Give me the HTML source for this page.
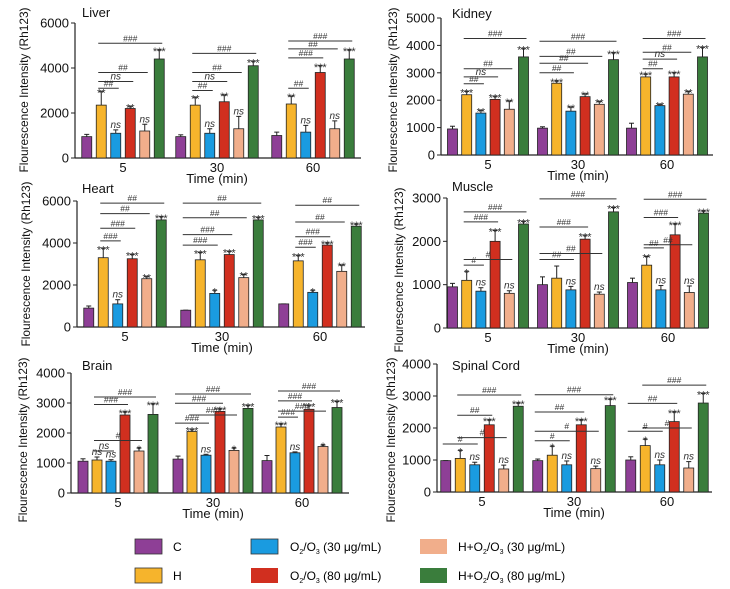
<!DOCTYPE html>
<html><head><meta charset="utf-8">
<style>
html,body{margin:0;padding:0;background:#fff;}
svg{display:block;font-family:"Liberation Sans",sans-serif;}
</style></head>
<body>
<svg id="fig" width="730" height="589" viewBox="0 0 730 589">
<g id="legend">
  <g><rect x="135" y="539" width="27" height="15" fill="#8e3f96" stroke="#333" stroke-width="0.8"/><text x="173" y="551" font-size="12">C</text></g>
  <g><rect x="135" y="568" width="27" height="15" fill="#f6b42c" stroke="#333" stroke-width="0.8"/><text x="173" y="580" font-size="12">H</text></g>
  <g><rect x="251" y="539" width="27" height="15" fill="#1a9be0" stroke="#333" stroke-width="0.8"/><text x="290" y="551" font-size="12">O<tspan font-size="7" dy="3">2</tspan><tspan dy="-3">/O</tspan><tspan font-size="7" dy="3">3</tspan><tspan dy="-3"> (30 μg/mL)</tspan></text></g>
  <g><rect x="251" y="568" width="27" height="15" fill="#d12f1f"/><text x="290" y="580" font-size="12">O<tspan font-size="7" dy="3">2</tspan><tspan dy="-3">/O</tspan><tspan font-size="7" dy="3">3</tspan><tspan dy="-3"> (80 μg/mL)</tspan></text></g>
  <g><rect x="420" y="539" width="27" height="15" fill="#f1ae8b"/><text x="458" y="551" font-size="12">H+O<tspan font-size="7" dy="3">2</tspan><tspan dy="-3">/O</tspan><tspan font-size="7" dy="3">3</tspan><tspan dy="-3"> (30 μg/mL)</tspan></text></g>
  <g><rect x="420" y="568" width="27" height="15" fill="#3a7d3c"/><text x="458" y="580" font-size="12">H+O<tspan font-size="7" dy="3">2</tspan><tspan dy="-3">/O</tspan><tspan font-size="7" dy="3">3</tspan><tspan dy="-3"> (80 μg/mL)</tspan></text></g>
</g>
</svg>
<script>
const categories = ["5","30","60"];
const seriesColors = ["#8e3f96","#f6b42c","#1a9be0","#d12f1f","#f1ae8b","#3a7d3c"];

const liverValues = [[950,2350,1100,2200,1200,4400],[950,2350,1100,2500,1300,4100],[1000,2400,1150,3800,1300,4400]];
const liverErrors = [[100,600,150,100,300,400],[80,350,200,300,550,200],[150,350,300,300,350,400]];
const liverStars = [["","**","ns","**","ns","***"],["","**","ns","**","ns","***"],["","**","ns","***","ns","***"]];
const liverTicks = [0,2000,4000,6000];
const liverBrackets = [[0,1,5,5100,"###"],[0,1,4,3800,"##"],[0,1,3,3400,"ns"],[0,1,2,3100,"##"],
 [1,1,5,4650,"###"],[1,1,4,3800,"##"],[1,1,3,3400,"ns"],[1,1,2,3000,"##"],
 [2,1,5,5200,"###"],[2,1,4,4850,"##"],[2,1,3,4450,"###"],[2,1,2,3100,"##"]];

const kidneyValues = [[950,2200,1530,2030,1670,3580],[980,2620,1600,2130,1850,3480],[980,2850,1800,2850,2220,3580]];
const kidneyErrors = [[100,120,100,100,300,300],[50,80,150,100,100,250],[180,100,50,150,100,350]];
const kidneyStars = [["","***","**","***","**","***"],["","***","**","**","**","***"],["","***","**","***","**","***"]];
const kidneyTicks = [0,1000,2000,3000,4000,5000];
const kidneyBrackets = [[0,1,5,4250,"###"],[0,1,4,3150,"##"],[0,1,3,2850,"ns"],[0,1,2,2600,"##"],
 [1,0,5,4150,"###"],[1,0,4,3600,"##"],[1,0,3,3350,"##"],[1,0,2,3000,"##"],
 [2,1,5,4250,"###"],[2,1,4,3750,"##"],[2,1,3,3500,"ns"],[2,1,2,3150,"##"]];

const heartValues = [[900,3300,1100,3250,2300,5100],[800,3200,1600,3450,2350,5100],[1100,3150,1650,3900,2650,4800]];
const heartErrors = [[100,450,200,200,100,150],[0,350,150,150,150,120],[0,250,100,100,300,100]];
const heartStars = [["","***","ns","***","**","***"],["","***","*","***","**","***"],["","***","*","***","**","***"]];
const heartTicks = [0,2000,4000,6000];
const heartBrackets = [[0,1,5,5900,"##"],[0,1,4,5400,"##"],[0,1,3,4700,"###"],[0,1,2,4100,"###"],
 [1,0,5,5900,"##"],[1,0,4,5200,"##"],[1,0,3,4400,"###"],[1,0,2,3900,"###"],
 [2,1,5,5800,"##"],[2,1,4,5000,"##"],[2,1,3,4300,"###"],[2,1,2,3800,"###"]];

const muscleValues = [[950,1100,850,2000,800,2400],[1000,1150,880,2050,780,2680],[1050,1450,880,2150,820,2650]];
const muscleErrors = [[80,200,80,250,60,60],[180,280,80,80,50,100],[100,200,100,250,150,50]];
const muscleStars = [["","*","ns","***","ns","***"],["","","ns","***","ns","***"],["","**","ns","***","ns","***"]];
const muscleTicks = [0,1000,2000,3000];
const muscleBrackets = [[0,1,5,2680,"###"],[0,1,3,2450,"###"],[0,1,4,1580,"#"],[0,1,2,1450,"#"],
 [1,0,5,2980,"###"],[1,0,3,2330,"###"],[1,0,4,1720,"##"],[1,0,2,1580,"##"],
 [2,1,5,2970,"###"],[2,1,3,2550,"###"],[2,1,4,1920,"##"],[2,1,2,1850,"##"]];

const brainValues = [[1060,1100,1060,2600,1400,2620],[1130,2050,1260,2720,1420,2820],[1080,2200,1340,2790,1550,2850]];
const brainErrors = [[80,100,50,100,100,350],[100,60,30,80,80,100],[170,100,30,120,50,200]];
const brainStars = [["","ns","ns","***","*","***"],["","***","ns","***","*","***"],["","***","ns","***","*","***"]];
const brainTicks = [0,1000,2000,3000,4000];
const brainBrackets = [[0,1,5,3200,"###"],[0,1,3,2950,"###"],[0,1,4,1750,"#"],[0,1,2,1400,"ns"],
 [1,0,5,3300,"###"],[1,0,3,2990,"###"],[1,1,4,2600,"###"],[1,0,2,2330,"###"],
 [2,1,5,3400,"###"],[2,1,3,3070,"###"],[2,1,4,2730,"###"],[2,1,2,2530,"###"]];

const spinalValues = [[980,1050,850,2100,720,2680],[980,1150,850,2100,730,2700],[1000,1450,850,2200,750,2780]];
const spinalErrors = [[0,250,80,150,120,100],[50,280,120,150,80,200],[100,200,150,300,200,300]];
const spinalStars = [["","*","ns","***","ns","***"],["","*","ns","***","ns","***"],["","*","ns","***","ns","***"]];
const spinalTicks = [0,1000,2000,3000,4000];
const spinalBrackets = [[0,1,5,3030,"###"],[0,1,3,2400,"##"],[0,1,4,1700,"#"],[0,0,2,1500,"#"],
 [1,0,5,3040,"###"],[1,0,3,2500,"##"],[1,0,4,1900,"#"],[1,0,2,1600,"#"],
 [2,1,5,3340,"###"],[2,0,3,2770,"##"],[2,1,4,2000,"#"],[2,0,2,1900,"#"]];

const panels = [
 {name:"liver", title:"Liver", values:liverValues, errors:liverErrors, stars:liverStars, ticks:liverTicks, brackets:liverBrackets,
  ax:75, axEnd:361, yTop:23, yBot:158, centers:[123,217,313], pitch:14.5, titleX:82, titleY:17, ytitleX:28, ytitleY:90},
 {name:"kidney", title:"Kidney", values:kidneyValues, errors:kidneyErrors, stars:kidneyStars, ticks:kidneyTicks, brackets:kidneyBrackets,
  ax:441, axEnd:713, yTop:18, yBot:155, centers:[488,578,667], pitch:14.2, titleX:452, titleY:18, ytitleX:397, ytitleY:90},
 {name:"heart", title:"Heart", values:heartValues, errors:heartErrors, stars:heartStars, ticks:heartTicks, brackets:heartBrackets,
  ax:77, axEnd:365, yTop:201, yBot:327, centers:[125,222,320], pitch:14.5, titleX:82, titleY:193, ytitleX:30, ytitleY:264},
 {name:"muscle", title:"Muscle", values:muscleValues, errors:muscleErrors, stars:muscleStars, ticks:muscleTicks, brackets:muscleBrackets,
  ax:447, axEnd:708, yTop:198, yBot:328, centers:[488,578,668], pitch:14.2, titleX:452, titleY:191, ytitleX:403, ytitleY:270},
 {name:"brain", title:"Brain", values:brainValues, errors:brainErrors, stars:brainStars, ticks:brainTicks, brackets:brainBrackets,
  ax:71, axEnd:349, yTop:373, yBot:493, centers:[118,213,302], pitch:14, titleX:82, titleY:370, ytitleX:27, ytitleY:440},
 {name:"spinal-cord", title:"Spinal Cord", values:spinalValues, errors:spinalErrors, stars:spinalStars, ticks:spinalTicks, brackets:spinalBrackets,
  ax:437, axEnd:712, yTop:364, yBot:492, centers:[482,574,667], pitch:14.5, titleX:452, titleY:370, ytitleX:395, ytitleY:440}
];

const NS = "http://www.w3.org/2000/svg";
const svg = document.getElementById("fig");
function mk(tag, attrs, parent){
  const e = document.createElementNS(NS, tag);
  for (const k in attrs) e.setAttribute(k, attrs[k]);
  parent.appendChild(e);
  return e;
}

panels.forEach(p => {
  const g = mk("g", {}, svg);
  
  
  const maxV = p.ticks[p.ticks.length-1];
  const y = v => p.yBot - (v / maxV) * (p.yBot - p.yTop);
  const barX = (gi, bi) => p.centers[gi] + (bi - 2.5) * p.pitch;
  const bw = 10;

  const yAxis = mk("line", {x1:p.ax, y1:p.yTop, x2:p.ax, y2:p.yBot, stroke:"#222", "stroke-width":1.2}, g);
  
  
  const xAxis = mk("line", {x1:p.ax, y1:p.yBot, x2:p.axEnd, y2:p.yBot, stroke:"#222", "stroke-width":1.2}, g);
  
  
  p.ticks.forEach(t => {
    mk("line", {x1:p.ax-4, y1:y(t), x2:p.ax, y2:y(t), stroke:"#222", "stroke-width":1}, g);
    const tl = mk("text", {x:p.ax-6, y:y(t)+4.5, "font-size":13, "text-anchor":"end", fill:"#111"}, g);
    tl.textContent = t;
    
    
  });
  categories.forEach((c, gi) => {
    const tl = mk("text", {x:p.centers[gi], y:p.yBot+14, "font-size":13, "text-anchor":"middle", fill:"#111"}, g);
    tl.textContent = c;
    
    
  });
  const xt = mk("text", {x:p.centers[1], y:p.yBot+25, "font-size":13, "text-anchor":"middle", fill:"#111"}, g);
  xt.textContent = "Time (min)";
  
  
  const cy = p.ytitleY;
  const yt = mk("text", {x:p.ytitleX, y:cy, "font-size":12, "text-anchor":"middle", fill:"#111",
    textLength:165, lengthAdjust:"spacingAndGlyphs",
    transform:"rotate(-90 " + p.ytitleX + " " + cy + ")"}, g);
  yt.textContent = "Flourescence Intensity (Rh123)";
  
  
  const tt = mk("text", {x:p.titleX, y:p.titleY, "font-size":13, fill:"#111"}, g);
  tt.textContent = p.title;
  
  

  p.values.forEach((grp, gi) => {
    grp.forEach((v, bi) => {
      const cx = barX(gi, bi);
      const top = y(v + p.errors[gi][bi]);
      mk("line", {x1:cx, y1:y(v), x2:cx, y2:top, stroke:"#222", "stroke-width":1}, g);
      mk("line", {x1:cx-2.5, y1:top, x2:cx+2.5, y2:top, stroke:"#222", "stroke-width":1}, g);
      const r = mk("rect", {x:cx-bw/2, y:y(v), width:bw, height:p.yBot - y(v), fill:seriesColors[bi], stroke:"#222", "stroke-width":0.8}, g);
      
      
      const s = p.stars[gi][bi];
      if (s) {
        const st = mk("text", {x:cx, y:top + (s === "ns" ? -2 : 5), "font-size": s === "ns" ? 10 : 11,
          "font-style": s === "ns" ? "italic" : "normal", "text-anchor":"middle", fill:"#333"}, g);
        st.textContent = s;
        
        
      }
    });
  });

  p.brackets.forEach(b => {
    const [gi, from, to, v, lab] = b;
    const x1 = barX(gi, from) - 3, x2 = barX(gi, to) + 3;
    const ly = y(v);
    const ln = mk("line", {x1:x1, y1:ly, x2:x2, y2:ly, stroke:"#333", "stroke-width":1}, g);
    
    
    const lt = mk("text", {x:(x1+x2)/2, y:ly-2, "font-size": lab === "ns" ? 10 : 8.5,
      "font-style": lab === "ns" ? "italic" : "normal", "text-anchor":"middle", fill:"#333"}, g);
    lt.textContent = lab;
    
    
  });
});
</script>
</body></html>
